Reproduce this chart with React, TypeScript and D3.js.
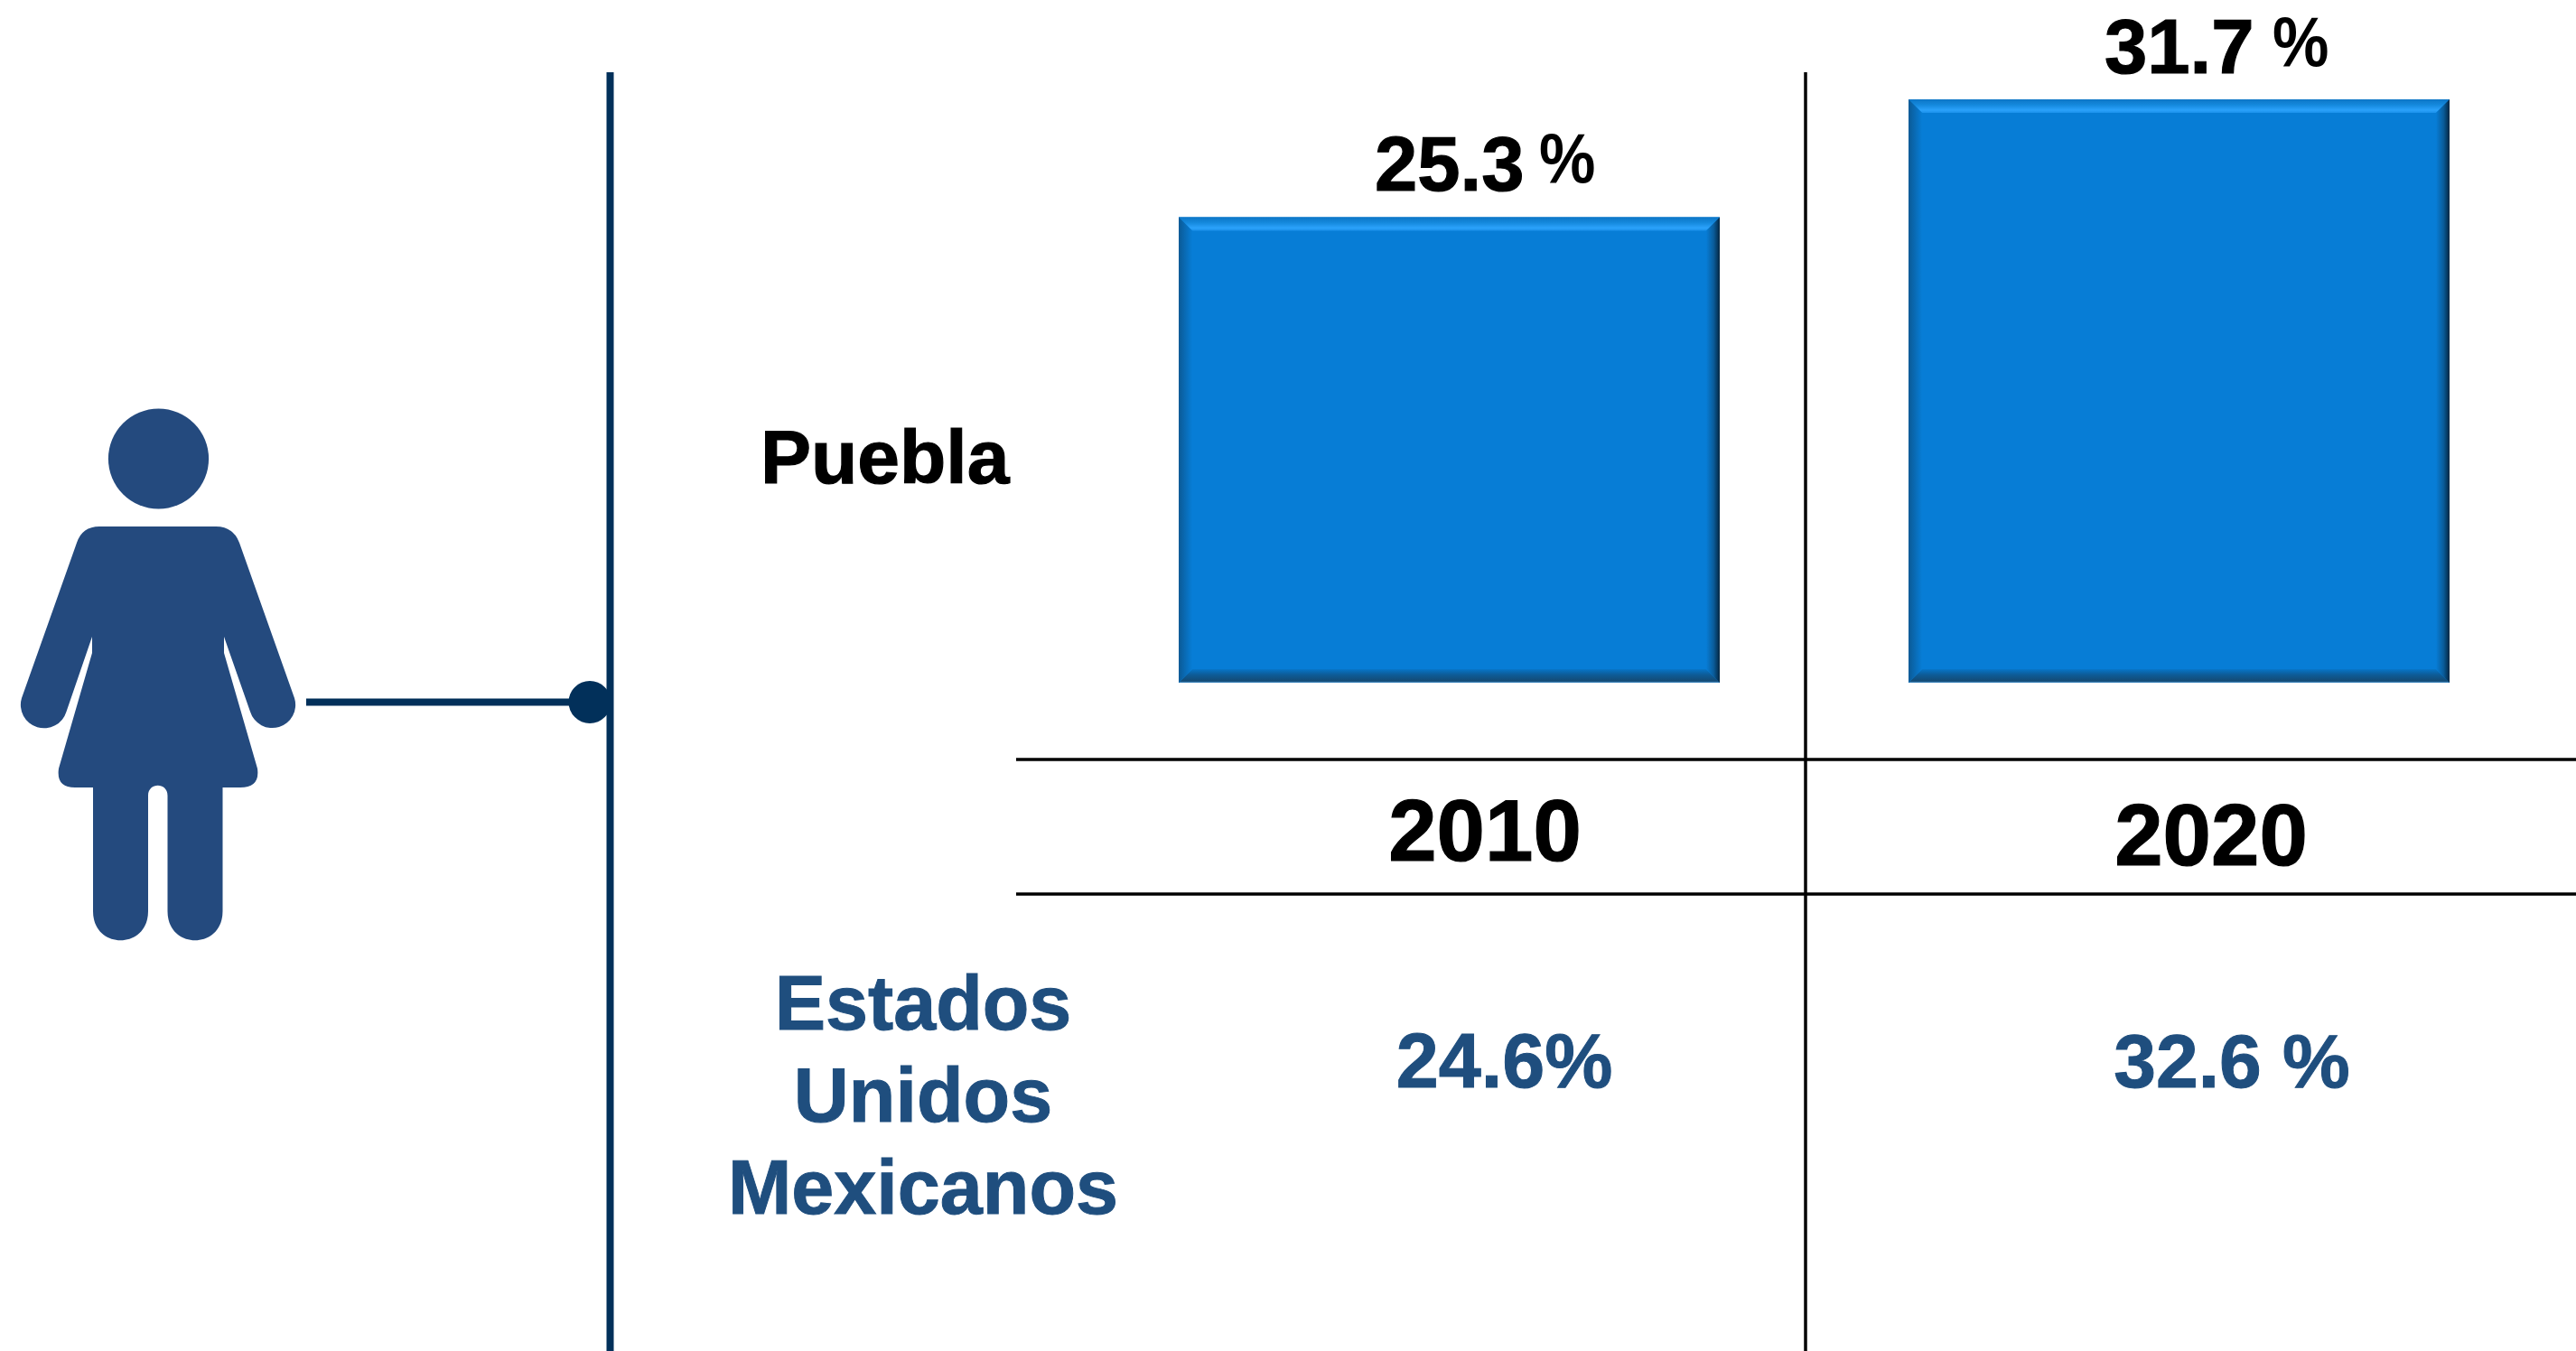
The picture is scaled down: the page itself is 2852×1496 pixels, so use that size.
import React from 'react'
import * as d3 from 'd3'

const years = ['2010', '2020']
const pueblaValues = [25.3, 31.7]
const pueblaLabels = ['25.3', '31.7']
const nationalLabels = ['24.6%', '32.6 %']
const nationalName = ['Estados', 'Unidos', 'Mexicanos']

const W = 2852
const H = 1496
const FONT = '"Liberation Sans", Arial, sans-serif'
const NAVY = '#02305a'
const FIGURE = '#244a7e'
const TEXT_BLUE = '#1f4e7e'

const x = d3.scaleBand().domain(years).range([1305, 2712]).paddingInner(0.2587).paddingOuter(0)
const y = d3.scaleLinear().domain([0, 31.7]).range([756, 110])

// silueta de la mujer
const bodyPath = `M110 583 L239 583 Q258 583 265 601 L326 773 A25.5 25.5 0 0 1 277 788 L248 705 L248 723
 L285 851 Q288 872 266 872 L246.5 872 L246.5 1009 C246.5 1052 185.5 1052 185.5 1009 L185.5 881 C185.5 866 164 866 164 881
 L164 1009 C164 1052 103 1052 103 1009 L103 872 L83 872 Q62 872 65 851 L102 723 L102 705 L73.5 788 A25.5 25.5 0 0 1 24 773
 L85 601 Q91 583 110 583 Z`

const Bar = ({ year, value }: { year: string; value: number }) => {
  const x0 = x(year) ?? 0
  const x1 = x0 + x.bandwidth()
  const y0 = y(value)
  const y1 = y(0)
  const b = 15
  return (
    <g>
      <rect x={x0} y={y0} width={x1 - x0} height={y1 - y0} fill="#077dd6" />
      <polygon points={`${x0},${y0} ${x1},${y0} ${x1 - b},${y0 + b} ${x0 + b},${y0 + b}`} fill="url(#bevelTop)" />
      <polygon points={`${x0},${y1} ${x1},${y1} ${x1 - b},${y1 - b} ${x0 + b},${y1 - b}`} fill="url(#bevelBottom)" />
      <polygon points={`${x0},${y0} ${x0 + b},${y0 + b} ${x0 + b},${y1 - b} ${x0},${y1}`} fill="url(#bevelLeft)" />
      <polygon points={`${x1},${y0} ${x1 - b},${y0 + b} ${x1 - b},${y1 - b} ${x1},${y1}`} fill="url(#bevelRight)" />
    </g>
  )
}

const App = () => {
  const bold = { stroke: '#000', strokeWidth: 1.2 }
  const boldBlue = { stroke: TEXT_BLUE, strokeWidth: 1 }
  return (
    <svg width={W} height={H} viewBox={`0 0 ${W} ${H}`}
      style={{ position: 'fixed', left: 0, top: 0, background: '#fff', fontFamily: FONT, fontWeight: 700 }}>
      <defs>
        <linearGradient id="bevelTop" x1="0" y1="0" x2="0" y2="1">
          <stop offset="0" stopColor="#0d76c6" />
          <stop offset="0.4" stopColor="#1488dc" />
          <stop offset="0.8" stopColor="#2ba2fb" />
          <stop offset="1" stopColor="#1a90ea" />
        </linearGradient>
        <linearGradient id="bevelBottom" x1="0" y1="0" x2="0" y2="1">
          <stop offset="0" stopColor="#0775c8" />
          <stop offset="0.4" stopColor="#0d5c98" />
          <stop offset="0.88" stopColor="#144a74" />
          <stop offset="1" stopColor="#4f9bd6" />
        </linearGradient>
        <linearGradient id="bevelLeft" x1="0" y1="0" x2="1" y2="0">
          <stop offset="0" stopColor="#0b5a96" />
          <stop offset="1" stopColor="#077dd6" />
        </linearGradient>
        <linearGradient id="bevelRight" x1="0" y1="0" x2="1" y2="0">
          <stop offset="0" stopColor="#077dd6" />
          <stop offset="0.55" stopColor="#0a5c9a" />
          <stop offset="1" stopColor="#042640" />
        </linearGradient>
      </defs>

      {/* figura y conector */}
      <circle cx={175.5} cy={508} r={55.6} fill={FIGURE} />
      <path d={bodyPath} fill={FIGURE} />
      <line x1={339} x2={640} y1={777.5} y2={777.5} stroke={NAVY} strokeWidth={8} />
      <circle cx={653} cy={777.5} r={23.5} fill={NAVY} />
      <line x1={675.5} x2={675.5} y1={80} y2={H} stroke={NAVY} strokeWidth={8} />

      {/* tabla */}
      <line x1={1125} x2={W} y1={841} y2={841} stroke="#000" strokeWidth={3.5} />
      <line x1={1125} x2={W} y1={990} y2={990} stroke="#000" strokeWidth={3.5} />
      <line x1={1999} x2={1999} y1={80} y2={H} stroke="#000" strokeWidth={3.5} />

      {years.map((year, i) => <Bar key={year} year={year} value={pueblaValues[i]} />)}

      {/* etiquetas de las barras */}
      <text x={1522} y={211} fontSize={85} fill="#000" {...bold}>{pueblaLabels[0]}</text>
      <text transform="translate(1704,202) scale(0.9,1)" fontSize={78} fill="#000">%</text>
      <text x={2330} y={81} fontSize={85} fill="#000" {...bold}>{pueblaLabels[1]}</text>
      <text transform="translate(2516,73) scale(0.9,1)" fontSize={78} fill="#000">%</text>

      <text x={842} y={535} fontSize={84} fill="#000" {...bold}>Puebla</text>

      <text x={1644} y={953} fontSize={96} fill="#000" textAnchor="middle" {...bold}>{years[0]}</text>
      <text x={2448} y={958} fontSize={96} fill="#000" textAnchor="middle" {...bold}>{years[1]}</text>

      {nationalName.map((t, i) => (
        <text key={t} x={1022} y={1140 + i * 102} fontSize={84.5} fill={TEXT_BLUE} textAnchor="middle" {...boldBlue}>{t}</text>
      ))}
      <text x={1665.5} y={1204} fontSize={84.5} fill={TEXT_BLUE} textAnchor="middle" {...boldBlue}>{nationalLabels[0]}</text>
      <text x={2471} y={1204} fontSize={84} fill={TEXT_BLUE} textAnchor="middle" {...boldBlue}>{nationalLabels[1]}</text>
    </svg>
  )
}

export default App
